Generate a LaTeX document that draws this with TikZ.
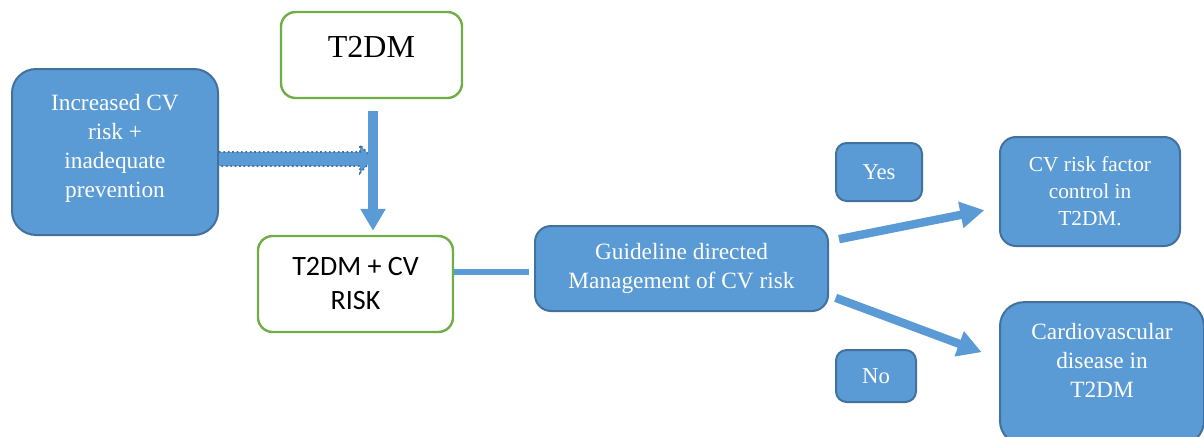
\documentclass[tikz,border=0pt]{standalone}
\usepackage{fontspec}
\setmainfont{Liberation Serif}
\newfontfamily\calibri{Carlito}
\usetikzlibrary{calc,arrows.meta}

\definecolor{boxblue}{HTML}{5B9BD5}
\definecolor{boxedge}{HTML}{41719C}
\definecolor{boxgreen}{HTML}{70AD47}

\tikzset{
  bluebox/.style={draw=boxedge, fill=boxblue, line width=1.5pt, rounded corners=12pt,
    text=white, align=center, inner sep=0pt},
  greenbox/.style={draw=boxgreen, fill=white, line width=1.8pt, rounded corners=11pt,
    align=center, inner sep=0pt},
  flow/.style={draw=boxblue, line width=6.3pt, -{Triangle[length=18pt,width=19pt]}},
  link/.style={draw=boxblue, line width=4.5pt},
}

\begin{document}
\begin{tikzpicture}[x=0.75pt, y=-0.75pt]
              \useasboundingbox (0, 0) rectangle (1204, 436);
              % boxes
              \node (inc) at (115, 152) [bluebox, rounded corners=18pt, minimum width=154.5pt, minimum height=124.5pt,
                font=\fontsize{17.5}{21.8}\selectfont, text depth=9pt]
                {Increased CV\\risk +\\inadequate\\prevention};
              \node (t2dm) at (371.5, 55) [greenbox, minimum width=135.75pt, minimum height=64.5pt,
                font=\fontsize{24}{28}\selectfont, text depth=12pt] {T2DM};
              \node (risk) at (355.5, 284) [greenbox, minimum width=146.25pt, minimum height=72pt,
                font=\calibri\fontsize{21}{25.5}\selectfont] {T2DM + CV\\RISK};
              \node (guide) at (681.5, 268.5) [bluebox, minimum width=219.75pt, minimum height=63.75pt,
                font=\fontsize{17.5}{21.8}\selectfont] {Guideline directed\\Management of CV risk};
              \node (yes) at (879, 172) [bluebox, rounded corners=8pt, minimum width=64.5pt, minimum height=43.5pt,
                font=\fontsize{17}{20}\selectfont] {Yes};
              \node (no) at (876, 376) [bluebox, rounded corners=8pt, minimum width=60pt, minimum height=39pt,
                font=\fontsize{17}{20}\selectfont] {No};
              \node (cvf) at (1090, 191.5) [bluebox, minimum width=135pt, minimum height=81.75pt,
                font=\fontsize{16}{20.2}\selectfont] {CV risk factor\\control in\\T2DM.};
              \node (cvd) at (1102, 373.5) [bluebox, rounded corners=18pt, minimum width=153pt, minimum height=107pt,
                font=\fontsize{17.5}{21.8}\selectfont, text depth=20pt] {Cardiovascular\\disease in\\T2DM};
              % arrows
              \coordinate (join) at (373, 159);
              \fill[boxblue] (inc.east |- join) ++(0, -7) -- ($(join) + (-13, -7)$) -- ($(join) + (-13, -14)$)
                -- (join) -- ($(join) + (-13, 14)$) -- ($(join) + (-13, 7)$) -- ($(inc.east |- join) + (0, 7)$) -- cycle;
              \draw[boxedge, dotted, line width=1.3pt] (inc.east |- join) ++(0, -7) -- ($(join) + (-13, -7)$)
                -- ($(join) + (-13, -14)$) -- (join) -- ($(join) + (-13, 14)$) -- ($(join) + (-13, 7)$)
                -- ($(inc.east |- join) + (0, 7)$);
              \draw[flow, line width=7.5pt, -{Triangle[length=16.5pt,width=18pt]}, shorten <=9pt, shorten >=3pt]
                (t2dm.south -| join) -- (risk.north -| join);
              \draw[link, shorten >=4pt] ([yshift=9pt]risk.east) -- ([yshift=9pt]risk.east -| guide.west);
              \draw[flow] ([xshift=7.5pt, yshift=22pt]guide.east) -- ([xshift=-11pt, yshift=-14pt]cvf.west);
              \draw[flow] ([xshift=5pt, yshift=-22pt]guide.east) -- ([xshift=-13pt, yshift=16pt]cvd.west);
            \end{tikzpicture}
\end{document}
